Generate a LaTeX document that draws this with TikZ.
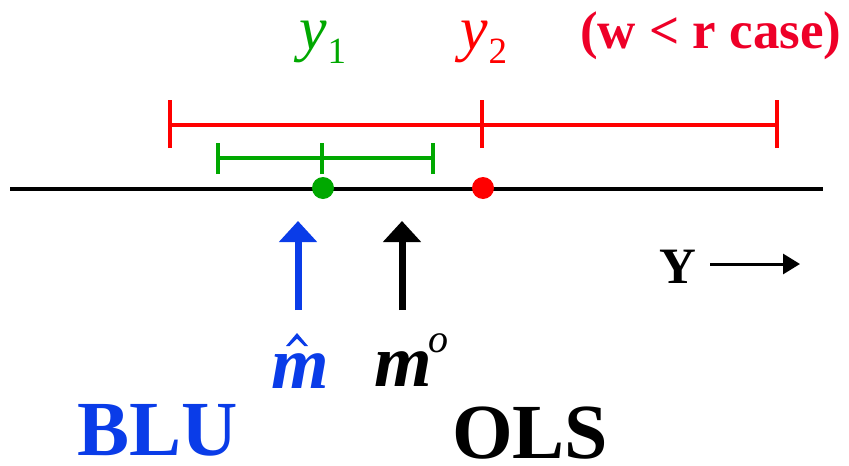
\documentclass[tikz,border=0pt]{standalone}
\usepackage{fontspec}
\setmainfont{Liberation Serif}
\usetikzlibrary{arrows.meta}
\definecolor{cgreen}{RGB}{0,168,0}
\definecolor{cred}{RGB}{255,0,0}
\definecolor{cred2}{RGB}{238,0,40}
\definecolor{cblue}{RGB}{10,60,232}
\newcommand{\fs}[1]{\fontsize{#1}{#1}\selectfont}
\tikzset{
  bar/.style={line width=4pt},
  dot/.style={circle, minimum size=22pt, inner sep=0pt},
  lbl/.style={inner sep=0pt, anchor=base},
  uparrow/.style={line width=7pt, -{Triangle[width=37pt,length=21pt]}},
}
\begin{document}
\begin{tikzpicture}[x=1pt,y=-1pt]
\useasboundingbox (0,0) rectangle (849,466);
% axis
\coordinate (axL) at (10,189);
\coordinate (axR) at (823,189);
\draw[line width=4pt] (axL) -- (axR);
% red interval
\coordinate (rL) at (170,125);
\coordinate (rM) at (482,125);
\coordinate (rR) at (777,125);
\draw[bar, cred] (rL) -- (rR);
\foreach \c in {rL,rM,rR} \draw[bar, cred] ([yshift=-23pt]\c) -- ([yshift=25pt]\c);
% green interval
\coordinate (gL) at (218,158);
\coordinate (gM) at (322,158);
\coordinate (gR) at (433,158);
\draw[bar, cgreen] (gL) -- (gR);
\foreach \c in {gL,gM,gR} \draw[bar, cgreen] ([yshift=-16pt]\c) -- ([yshift=15pt]\c);
% dots
\node[dot, fill=cgreen] (d1) at (323,188) {};
\node[dot, fill=cred] (d2) at (483,188) {};
% labels y1 y2
\node[lbl, cgreen] (y1) at (323,49) {\fs{62}\itshape y\raisebox{-14pt}{\fs{37}\upshape 1}};
\node[lbl, cred] (y2) at (484,49) {\fs{62}\itshape y\raisebox{-14pt}{\fs{37}\upshape 2}};
\node[lbl, cred2, anchor=base west] (case) at (580,48) {\fs{53}\bfseries (w < r case)};
% arrows
\coordinate (bA0) at (298,310);
\coordinate (bA1) at (298,221);
\draw[uparrow, cblue] (bA0) -- (bA1);
\coordinate (kA0) at (402,310);
\coordinate (kA1) at (402,221);
\draw[uparrow, black] (kA0) -- (kA1);
% m labels
\node[lbl, cblue] (mhat) at (300,388) {\fs{74}\bfseries\itshape m};
\fill[cblue] (286,346) -- (297,333) -- (308,346) -- (304.5,346) -- (297,338.5) -- (289.5,346) -- cycle;
\node[lbl] (m0) at (403,386) {\fs{74}\bfseries\itshape m};
\node[lbl] (sup) at (438,352) {\fs{40}\itshape o};
% Y arrow
\node[lbl, anchor=base west] (Y) at (659,283) {\fs{51}\bfseries Y};
\coordinate (yaEnd) at (800,264);
\draw[line width=3pt, -{Triangle[width=20pt,length=17pt]}] (Y.east |- yaEnd) ++(14,0) coordinate (yaStart) -- (yaEnd);
% BLU OLS
\node[lbl, cblue, anchor=base west] (BLU) at (77,455) {\fs{78}\bfseries BLU};
\node[lbl, anchor=base west] (OLS) at (452,458) {\fs{78}\bfseries OLS};
\end{tikzpicture}
\end{document}
